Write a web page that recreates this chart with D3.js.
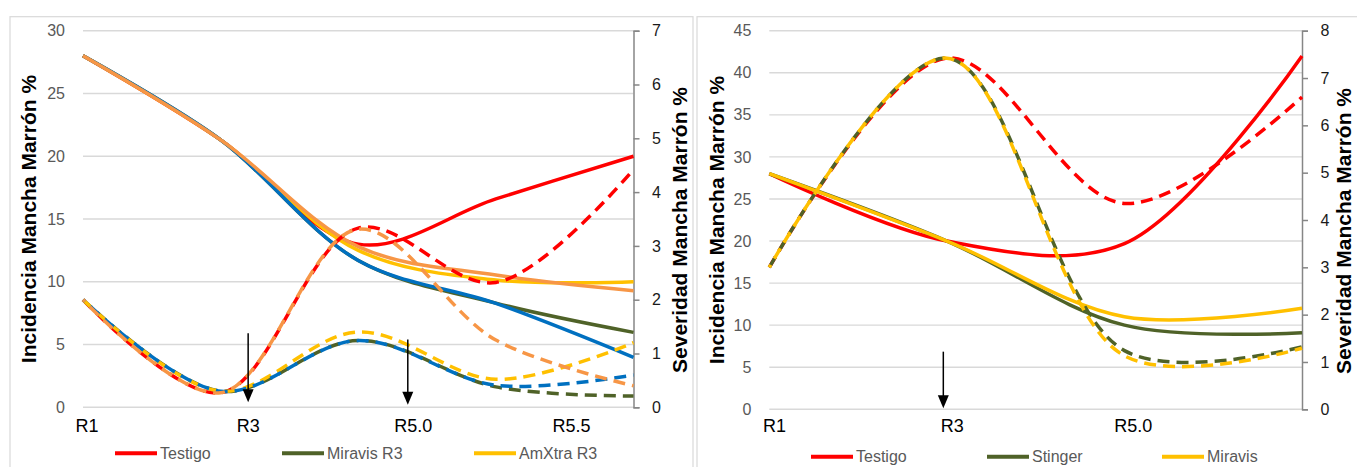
<!DOCTYPE html>
<html>
<head>
<meta charset="utf-8">
<script src="https://cdn.jsdelivr.net/npm/d3@7"></script>
<style>
  html, body { margin: 0; padding: 0; background: #ffffff; }
  svg { display: block; }
  text { font-family: "Liberation Sans", Arial, sans-serif; }
</style>
</head>
<body>
<svg id="chart" width="1357" height="467"></svg>
<script>
// ---------------- DATA ----------------
// Left chart: 5 sampling dates
const leftCats = [0, 1, 2, 3, 4];
const leftXLabels = ["R1", "R3", "R5.0", "R5.5"];
const leftXLabelPos = [0.03, 1.2, 2.4, 3.55];
const leftYTicks = [0, 5, 10, 15, 20, 25, 30];
const leftY2Ticks = [0, 1, 2, 3, 4, 5, 6, 7];

// Incidence (left axis, solid)
const leftTestigoInc = [28, 21.3, 13.0, 16.6, 20.0];
const leftMiravisInc = [28, 21.3, 11.7, 8.3, 5.97];
const leftAmxtraInc  = [28, 21.3, 12.5, 10.14, 10.0];
const leftBlueInc    = [28, 21.3, 11.7, 8.28, 3.98];
const leftOrangeInc  = [28, 21.3, 12.8, 10.54, 9.29];
// Severity (right axis, dashed)
const leftTestigoSev = [2.0, 0.27, 3.33, 2.32, 4.42];
const leftMiravisSev = [2.0, 0.30, 1.24, 0.38, 0.21];
const leftAmxtraSev  = [2.0, 0.30, 1.40, 0.52, 1.20];
const leftBlueSev    = [2.0, 0.30, 1.24, 0.41, 0.60];
const leftOrangeSev  = [2.0, 0.27, 3.31, 1.25, 0.40];

// Right chart: 4 sampling dates
const rightCats = [0, 1, 2, 3];
const rightXLabels = ["R1", "R3", "R5.0"];
const rightXLabelPos = [0.03, 1.03, 2.05];
const rightYTicks = [0, 5, 10, 15, 20, 25, 30, 35, 40, 45];
const rightY2Ticks = [0, 1, 2, 3, 4, 5, 6, 7, 8];

const rightTestigoInc = [28, 20, 19.7, 42];
const rightStingerInc = [28, 20, 10.0, 9.1];
const rightMiravisInc = [28, 20, 11.0, 12.0];
const rightTestigoSev = [3.0, 7.42, 4.35, 6.6];
const rightStingerSev = [3.0, 7.42, 1.24, 1.32];
const rightMiravisSev = [3.0, 7.42, 1.13, 1.29];

// Annotation arrows (x in category units, y in left-axis units)
const leftArrows  = [{x: 1.2, from: 5.9, to: 0.4}, {x: 2.36, from: 5.4, to: 0.2}];
const rightArrows = [{x: 0.98, from: 6.85, to: 0.12}];

const leftLegend  = ["Testigo", "Miravis R3", "AmXtra R3"];
const rightLegend = ["Testigo", "Stinger", "Miravis"];

// ---------------- STYLE ----------------
const C = {
  red: "#FF0000", green: "#4F6228", yellow: "#FFC000",
  blue: "#0070C0", orange: "#F79646",
  grid: "#D9D9D9", axis: "#868686", tick: "#595959", frame: "#D9D9D9"
};

const svg = d3.select("#chart");
svg.append("rect").attr("width", 1357).attr("height", 467).attr("fill", "#fff");

function drawPanel(cfg) {
  const g = svg.append("g");
  // frame
  g.append("rect")
    .attr("x", cfg.frame[0]).attr("y", cfg.frame[1])
    .attr("width", cfg.frame[2]).attr("height", cfg.frame[3])
    .attr("fill", "none").attr("stroke", C.frame).attr("stroke-width", 1.2);

  const x = d3.scaleLinear().domain(cfg.xDomain).range([cfg.x0, cfg.x1]);
  const y = d3.scaleLinear().domain([0, d3.max(cfg.yTicks)]).range([cfg.yb, cfg.yt]);
  const y2 = d3.scaleLinear().domain([0, d3.max(cfg.y2Ticks)]).range([cfg.yb, cfg.yt]);

  // gridlines
  g.append("g").selectAll("line").data(cfg.yTicks).join("line")
    .attr("x1", cfg.x0).attr("x2", cfg.x1)
    .attr("y1", d => y(d)).attr("y2", d => y(d))
    .attr("stroke", C.grid).attr("stroke-width", 1.4);

  // left axis labels
  const yAxis = d3.axisLeft(y).tickValues(cfg.yTicks).tickSize(0).tickPadding(0)
    .tickFormat(d3.format("d"));
  const ya = g.append("g").attr("transform", `translate(${cfg.x0 - 18},0)`).call(yAxis);
  ya.select(".domain").remove();
  ya.selectAll("text").attr("font-size", 16).attr("fill", C.tick)
    .attr("font-family", "Liberation Sans, Arial, sans-serif");

  // right axis
  const y2Axis = d3.axisRight(y2).tickValues(cfg.y2Ticks).tickSize(6).tickPadding(12)
    .tickFormat(d3.format("d"));
  const yb = g.append("g").attr("transform", `translate(${cfg.x1},0)`).call(y2Axis);
  yb.select(".domain").attr("stroke", C.axis).attr("stroke-width", 1.5);
  yb.selectAll(".tick line").attr("stroke", C.axis).attr("stroke-width", 1.5);
  yb.selectAll("text").attr("font-size", 16).attr("fill", "#1a1a1a")
    .attr("text-anchor", "middle").attr("dx", 5)
    .attr("font-family", "Liberation Sans, Arial, sans-serif");

  // x labels
  g.append("g").selectAll("text").data(cfg.xLabels).join("text")
    .attr("x", (d, i) => x(cfg.xLabelPos[i]))
    .attr("y", 432)
    .attr("text-anchor", "middle")
    .attr("font-size", 18).attr("fill", "#000")
    .text(d => d);

  // axis titles
  g.append("text")
    .attr("transform", `translate(${cfg.t1x},${cfg.t1y}) rotate(-90)`)
    .attr("text-anchor", "middle").attr("font-size", 21).attr("font-weight", "bold")
    .attr("fill", "#000").text("Incidencia Mancha Marrón %");
  g.append("text")
    .attr("transform", `translate(${cfg.t2x},${cfg.t2y}) rotate(-90)`)
    .attr("text-anchor", "middle").attr("font-size", 21).attr("font-weight", "bold")
    .attr("fill", "#000").text("Severidad Mancha Marrón %");

  const curve = d3.curveCatmullRom.alpha(0.5);
  const lineL = d3.line().x((d, i) => x(cfg.cats[i])).y(d => y(d)).curve(curve);
  const lineR = d3.line().x((d, i) => x(cfg.cats[i])).y(d => y2(d)).curve(curve);

  cfg.solids.forEach(s => {
    g.append("path").attr("d", lineL(s.values))
      .attr("fill", "none").attr("stroke", s.color).attr("stroke-width", 3.5)
      .attr("stroke-linejoin", "round");
  });
  cfg.dashed.forEach(s => {
    g.append("path").attr("d", lineR(s.values))
      .attr("fill", "none").attr("stroke", s.color).attr("stroke-width", 3.5)
      .attr("stroke-dasharray", "12 7").attr("stroke-dashoffset", s.offset || 0);
  });

  // arrows
  cfg.arrows.forEach(a => {
    const ax = x(a.x), ay1 = y(a.from), ay2 = y(a.to);
    g.append("line").attr("x1", ax).attr("x2", ax).attr("y1", ay1).attr("y2", ay2 - 10)
      .attr("stroke", "#000").attr("stroke-width", 1.5);
    g.append("path")
      .attr("d", `M${ax - 5.5},${ay2 - 13} L${ax + 5.5},${ay2 - 13} L${ax},${ay2} Z`)
      .attr("fill", "#000");
  });

  // legend
  const lg = g.append("g");
  cfg.legend.forEach((name, i) => {
    const lx = cfg.legendX[i];
    lg.append("line").attr("x1", lx).attr("x2", lx + 42)
      .attr("y1", cfg.legendY).attr("y2", cfg.legendY)
      .attr("stroke", cfg.legendColors[i]).attr("stroke-width", 4);
    lg.append("text").attr("x", lx + 45).attr("y", cfg.legendY + 5.5)
      .attr("font-size", 16).attr("fill", C.tick).text(name);
  });
}

drawPanel({
  frame: [10, 16.7, 683, 520],
  xDomain: [0, 4], x0: 83, x1: 633.5, yt: 30.7, yb: 407.3,
  cats: leftCats, yTicks: leftYTicks, y2Ticks: leftY2Ticks,
  xLabels: leftXLabels, xLabelPos: leftXLabelPos,
  t1x: 35.5, t1y: 219, t2x: 687, t2y: 230,
  solids: [
    {values: leftTestigoInc, color: C.red},
    {values: leftMiravisInc, color: C.green},
    {values: leftAmxtraInc, color: C.yellow},
    {values: leftBlueInc, color: C.blue},
    {values: leftOrangeInc, color: C.orange}
  ],
  dashed: [
    {values: leftTestigoSev, color: C.red},
    {values: leftMiravisSev, color: C.green},
    {values: leftAmxtraSev, color: C.yellow},
    {values: leftBlueSev, color: C.blue, offset: 9},
    {values: leftOrangeSev, color: C.orange, offset: 9}
  ],
  arrows: leftArrows,
  legend: leftLegend, legendColors: [C.red, C.green, C.yellow],
  legendX: [115, 282, 474], legendY: 453.3
});

drawPanel({
  frame: [697, 16.7, 720, 520],
  xDomain: [0, 3], x0: 769.3, x1: 1302, yt: 30.7, yb: 409.3,
  cats: rightCats, yTicks: rightYTicks, y2Ticks: rightY2Ticks,
  xLabels: rightXLabels, xLabelPos: rightXLabelPos,
  t1x: 724, t1y: 220, t2x: 1351, t2y: 231,
  solids: [
    {values: rightTestigoInc, color: C.red},
    {values: rightStingerInc, color: C.green},
    {values: rightMiravisInc, color: C.yellow}
  ],
  dashed: [
    {values: rightTestigoSev, color: C.red},
    {values: rightStingerSev, color: C.green},
    {values: rightMiravisSev, color: C.yellow, offset: 9}
  ],
  arrows: rightArrows,
  legend: rightLegend, legendColors: [C.red, C.green, C.yellow],
  legendX: [811, 987, 1162], legendY: 456.7
});
</script>
</body>
</html>
